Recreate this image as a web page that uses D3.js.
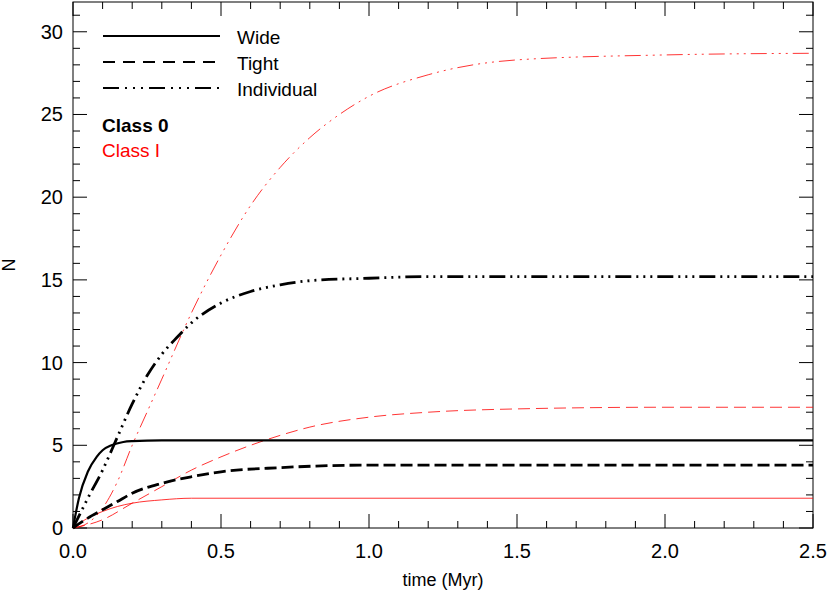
<!DOCTYPE html><html><head><meta charset="utf-8"><script src="https://cdn.jsdelivr.net/npm/d3@7"></script>
<style>body{margin:0;background:#fff}text{font-family:"Liberation Sans",Arial,sans-serif}</style></head><body><svg id="c" width="830" height="596"></svg><script>
const wideT=[0,0.02,0.05,0.08,0.1,0.13,0.17,0.2,0.3,0.5,2.5];
const wide0=[0,1.8,3.4,4.3,4.7,5.0,5.2,5.25,5.3,5.3,5.3];
const tightT=[0,0.05,0.1,0.15,0.2,0.3,0.4,0.5,0.7,1.0,1.5,2.5];
const tight0=[0,0.6,1.1,1.6,2.1,2.7,3.1,3.4,3.65,3.8,3.8,3.8];
const indT=[0,0.05,0.1,0.15,0.2,0.25,0.3,0.35,0.4,0.5,0.6,0.7,0.8,1.0,1.2,2.5];
const ind0=[0,1.8,3.5,5.5,7.5,9.2,10.5,11.5,12.4,13.6,14.3,14.7,14.95,15.1,15.2,15.2];
const indIT=[0,0.05,0.1,0.15,0.2,0.25,0.3,0.4,0.5,0.6,0.7,0.8,0.9,1.0,1.2,1.5,2.0,2.5];
const indI=[0,0.3,1.2,2.8,5,7,9,13,16.5,19.5,21.8,23.6,25,26.1,27.4,28.3,28.6,28.7];
const tightIT=[0,0.1,0.2,0.3,0.4,0.5,0.6,0.7,0.8,1.0,1.2,1.5,2.0,2.5];
const tightI=[0,0.5,1.5,2.5,3.5,4.3,5,5.6,6.1,6.7,7.0,7.2,7.3,7.3];
const wideIT=[0,0.05,0.1,0.15,0.2,0.3,0.4,0.5,2.5];
const wideI=[0,0.6,1.0,1.3,1.5,1.7,1.8,1.8,1.8];
const xTicks=[0,0.5,1.0,1.5,2.0,2.5], yTicks=[0,5,10,15,20,25,30];
const svg=d3.select("#c");
const L=73,R=813,T=2,B=528;
const x=d3.scaleLinear().domain([0,2.5]).range([L,R]);
const y=d3.scaleLinear().domain([0,31.8]).range([B,T]);
const ax="#000";
svg.append("rect").attr("x",L).attr("y",T).attr("width",R-L).attr("height",B-T).attr("fill","none").attr("stroke",ax);
// ticks
d3.range(0,2.51,0.1).forEach(v=>{const big=Math.abs(v*2-Math.round(v*2))<1e-6;const l=big?14:7;
 svg.append("line").attr("x1",x(v)).attr("x2",x(v)).attr("y1",B).attr("y2",B-l).attr("stroke",ax);
 svg.append("line").attr("x1",x(v)).attr("x2",x(v)).attr("y1",T).attr("y2",T+l).attr("stroke",ax);});
d3.range(0,32,1).forEach(v=>{const l=v%5==0?14:7;
 svg.append("line").attr("x1",L).attr("x2",L+l).attr("y1",y(v)).attr("y2",y(v)).attr("stroke",ax);
 svg.append("line").attr("x1",R).attr("x2",R-l).attr("y1",y(v)).attr("y2",y(v)).attr("stroke",ax);});
xTicks.forEach(v=>svg.append("text").attr("x",x(v)).attr("y",558).attr("text-anchor","middle").attr("font-size",20).text(v.toFixed(1)));
yTicks.forEach(v=>svg.append("text").attr("x",L-10).attr("y",y(v)+7).attr("text-anchor","end").attr("font-size",20).text(v));
svg.append("text").attr("x",(L+R)/2).attr("y",586).attr("text-anchor","middle").attr("font-size",18).text("time (Myr)");
svg.append("text").attr("transform",`translate(15,${(T+B)/2}) rotate(-90)`).attr("text-anchor","middle").attr("font-size",18).text("N");
const line=d3.line().x(d=>x(d[0])).y(d=>y(d[1])).curve(d3.curveMonotoneX);
const DASH="12,5", DD="16,5,2,5,2,5,2,5";
function draw(ts,vs,col,w,da){svg.append("path").attr("d",line(ts.map((t,i)=>[t,vs[i]]))).attr("fill","none").attr("stroke",col).attr("stroke-width",w).attr("stroke-dasharray",da);}
draw(wideIT,wideI,"#f00",0.8,null);
draw(tightIT,tightI,"#f00",0.8,"12,6");
draw(indIT,indI,"#f00",0.8,DD);
draw(wideT,wide0,"#000",2.2,null);
draw(tightT,tight0,"#000",2.8,DASH);
draw(indT,ind0,"#000",2.8,DD);
const leg=[["Wide",null],["Tight","12,8"],["Individual","16,6,2,6,2,6,2,6"]];
leg.forEach((d,i)=>{const yy=36+i*26;
 svg.append("line").attr("x1",103).attr("x2",220).attr("y1",yy).attr("y2",yy).attr("stroke","#000").attr("stroke-width",1.8).attr("stroke-dasharray",d[1]);
 svg.append("text").attr("x",237).attr("y",yy+8).attr("font-size",19).text(d[0]);});
svg.append("text").attr("x",102).attr("y",132).attr("font-size",19).attr("font-weight","bold").text("Class 0");
svg.append("text").attr("x",102).attr("y",157).attr("font-size",19).attr("fill","#f00").text("Class I");
</script></body></html>
